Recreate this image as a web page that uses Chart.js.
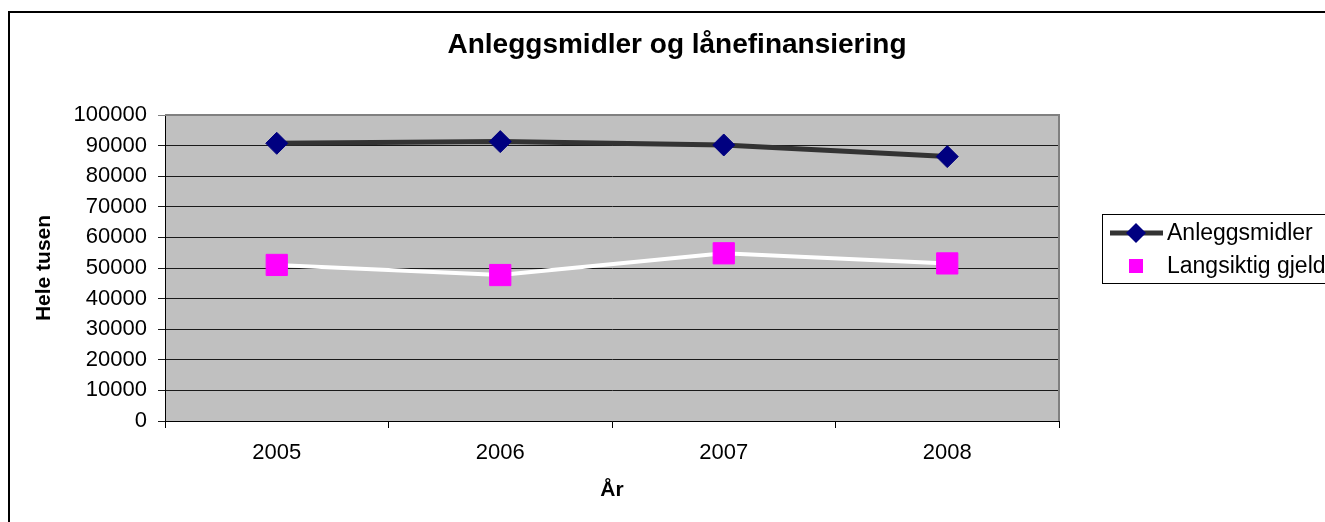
<!DOCTYPE html>
<html>
<head>
<meta charset="utf-8">
<script src="https://cdn.jsdelivr.net/npm/chart.js@4/dist/chart.umd.min.js"></script>
<style>
    body { margin: 0; overflow: hidden; background: #fff; }
    #wrap { position: relative; width: 1325px; height: 522px; overflow: hidden; }
    #frame { position: absolute; left: 8px; top: 11px; width: 1400px; height: 600px; border: 2px solid #000; pointer-events: none; }
</style>
</head>
<body>
<div id="wrap">
    <canvas id="chart" width="1354" height="522"></canvas>
    <div id="frame"></div>
</div>
<script>
// data
const years = ["2005", "2006", "2007", "2008"];
const anleggsmidler = [90750, 91300, 90200, 86400];
const langsiktigGjeld = [51000, 47700, 54800, 51500];
const yTicks = [0, 10000, 20000, 30000, 40000, 50000, 60000, 70000, 80000, 90000, 100000];

const FONT = "'Liberation Sans', Arial, sans-serif";

// grey plot area + grey frame on top/right
const plotArea = {
    id: "plotArea",
    beforeDraw(chart) {
        const {ctx, chartArea: a} = chart;
        ctx.save();
        ctx.fillStyle = "#c0c0c0";
        ctx.fillRect(a.left, a.top, a.right - a.left, a.bottom - a.top);
        ctx.restore();
    },
    beforeDatasetsDraw(chart) {
        const {ctx, chartArea: a} = chart;
        ctx.save();
        ctx.strokeStyle = "#808080";
        ctx.lineWidth = 2;
        ctx.beginPath();
        ctx.moveTo(a.left, a.top);
        ctx.lineTo(a.right, a.top);
        ctx.lineTo(a.right, a.bottom);
        ctx.stroke();
        ctx.restore();
    }
};

// excel style legend with a framed box
const boxLegend = {
    id: "boxLegend",
    afterDraw(chart) {
        const {ctx, chartArea: a} = chart;
        const x0 = a.right + 43, y0 = a.top + 99;
        ctx.save();
        ctx.fillStyle = "#fff";
        ctx.fillRect(x0, y0, 300, 69);
        ctx.strokeStyle = "#000";
        ctx.lineWidth = 1;
        ctx.strokeRect(x0 + 0.5, y0 + 0.5, 300, 69);
        chart.data.datasets.forEach((ds, i) => {
            const y = y0 + 19 + i * 33;
            const cx = x0 + 34;
            ctx.strokeStyle = ds.borderColor;
            ctx.lineWidth = ds.borderWidth;
            ctx.beginPath();
            ctx.moveTo(x0 + 8, y);
            ctx.lineTo(x0 + 61, y);
            ctx.stroke();
            ctx.fillStyle = ds.pointBackgroundColor;
            ctx.beginPath();
            if (ds.pointStyle === "rectRot") {
                const r = 10;
                ctx.moveTo(cx, y - r);
                ctx.lineTo(cx + r, y);
                ctx.lineTo(cx, y + r);
                ctx.lineTo(cx - r, y);
                ctx.closePath();
            } else {
                ctx.rect(cx - 7, y - 7, 14, 14);
            }
            ctx.fill();
            ctx.fillStyle = "#000";
            ctx.font = "23px " + FONT;
            ctx.textBaseline = "middle";
            ctx.fillText(ds.label, x0 + 65, y + 1);
        });
        ctx.restore();
    }
};

new Chart(document.getElementById("chart").getContext("2d"), {
    type: "line",
    data: {
        labels: years,
        datasets: [{
            label: "Anleggsmidler",
            data: anleggsmidler,
            borderColor: "#333333",
            borderWidth: 5,
            pointStyle: "rectRot",
            pointRadius: 11,
            pointBackgroundColor: "#000080",
            pointBorderColor: "#000080",
            pointBorderWidth: 1,
            tension: 0,
        }, {
            label: "Langsiktig gjeld",
            data: langsiktigGjeld,
            borderColor: "#ffffff",
            borderWidth: 4,
            pointStyle: "rect",
            pointRadius: 15,
            pointBackgroundColor: "#ff00ff",
            pointBorderColor: "#ff00ff",
            pointBorderWidth: 1,
            tension: 0,
        }],
    },
    options: {
        responsive: false,
        animation: false,
        events: [],
        layout: {
            padding: 0,
        },
        plugins: {
            legend: {display: false},
            tooltip: {enabled: false},
            title: {
                display: true,
                text: "Anleggsmidler og lånefinansiering",
                color: "#000",
                font: {family: FONT, size: 28, weight: "bold"},
                padding: {top: 28.5, bottom: 52.9},
            },
        },
        scales: {
            x: {
                offset: true,
                afterFit(scale) { scale.height = 101; },
                grid: {
                    offset: true,
                    drawOnChartArea: false,
                    drawTicks: true,
                    tickLength: 7,
                    color: "#000",
                },
                border: {display: true, color: "#000", width: 1},
                ticks: {
                    color: "#000",
                    padding: 12,
                    font: {family: FONT, size: 22},
                },
                title: {
                    display: true,
                    text: "År",
                    color: "#000",
                    font: {family: FONT, size: 21, weight: "bold"},
                    padding: {top: 19, bottom: 19},
                },
            },
            y: {
                min: 0,
                max: 100000,
                afterFit(scale) { scale.width = 165; },
                afterBuildTicks(scale) { scale.ticks = yTicks.map(v => ({value: v})); },
                grid: {
                    color: (c) => c.tick && c.tick.value === 100000 ? "#808080" : "#1a1a1a",
                    lineWidth: 1,
                    drawTicks: true,
                    tickLength: 7,
                },
                border: {display: true, color: "#000", width: 1},
                ticks: {
                    color: "#000",
                    padding: 11,
                    font: {family: FONT, size: 22},
                    callback: (v) => String(v),
                },
                title: {
                    display: true,
                    text: "Hele tusen",
                    color: "#000",
                    font: {family: FONT, size: 21, weight: "bold"},
                    padding: {top: 32, bottom: 0},
                },
            },
            // empty right-hand axis that only reserves room for the legend
            legendSpace: {
                type: "linear",
                position: "right",
                afterFit(scale) { scale.width = 295; },
                grid: {display: false, drawTicks: false},
                border: {display: false},
                ticks: {display: false},
            },
        },
    },
    plugins: [plotArea, boxLegend],
});
</script>
</body>
</html>
